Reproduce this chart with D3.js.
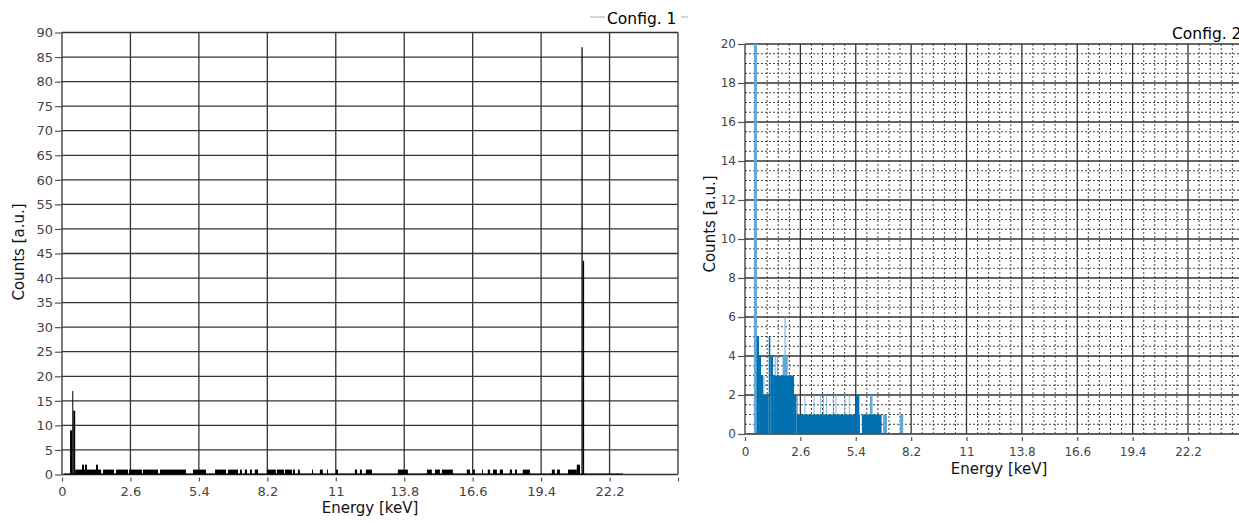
<!DOCTYPE html>
<html>
<head>
<meta charset="utf-8">
<script src="https://cdn.jsdelivr.net/npm/d3@7"></script>
<style>
  body { margin: 0; background: #fff; overflow: hidden; }
  svg { display: block; font-family: "DejaVu Sans", Verdana, sans-serif; }
</style>
</head>
<body>
<div id="chart"></div>
<script>
// Energy axis: gridlines every 2.8 keV, first one is labelled "0"
const energyTicks = [-0.2, 2.6, 5.4, 8.2, 11, 13.8, 16.6, 19.4, 22.2, 25];
const energyLabels = ["0", "2.6", "5.4", "8.2", "11", "13.8", "16.6", "19.4", "22.2", ""];

// Config. 1 spectrum, [from keV, to keV, counts]
const config1Bins = [
  [0.13, 0.22, 9], [0.22, 0.26, 17], [0.26, 0.34, 13],
  [0.34, 1.40, 1], [0.62, 0.70, 2], [0.74, 0.82, 2], [1.19, 1.27, 2],
  [1.48, 1.93, 1], [2.01, 2.50, 1], [2.54, 3.07, 1], [3.11, 3.73, 1],
  [3.81, 4.87, 1], [5.16, 5.69, 1], [6.06, 6.51, 1], [6.59, 7.00, 1],
  [7.08, 7.16, 1], [7.28, 7.37, 1], [7.49, 7.57, 1], [7.69, 7.82, 1],
  [8.18, 8.55, 1], [8.59, 8.88, 1], [8.92, 9.21, 1], [9.25, 9.33, 1],
  [9.45, 9.53, 1], [10.03, 10.07, 1], [10.35, 10.47, 1], [10.64, 10.68, 1],
  [11.01, 11.09, 1], [11.78, 11.87, 1], [11.99, 12.07, 1], [12.23, 12.48, 1],
  [13.54, 13.95, 1], [14.73, 14.93, 1], [15.06, 15.26, 1], [15.34, 15.79, 1],
  [16.36, 16.49, 1], [16.61, 16.69, 1], [16.98, 17.02, 1], [17.22, 17.31, 1],
  [17.43, 17.59, 1], [17.71, 17.84, 1], [18.12, 18.21, 1], [18.33, 18.41, 1],
  [18.65, 18.94, 1], [19.84, 19.96, 1], [20.05, 20.17, 1], [20.50, 20.86, 1],
  [20.86, 20.99, 2], [21.05, 21.10, 87], [21.10, 21.16, 43.5]
];
const config1Span = [-0.12, 22.75];

// Config. 2 spectrum, solid bins
const config2Bins = [
  [0.39, 0.51, 5], [0.51, 0.61, 4], [0.61, 0.71, 3], [0.71, 1.00, 2],
  [1.00, 1.08, 5], [1.08, 1.22, 4], [1.22, 2.28, 3], [2.28, 2.41, 2],
  [2.41, 5.61, 1], [5.41, 5.58, 2], [5.71, 6.71, 1]
];
// Config. 2 single channels (drawn lighter)
const config2Spikes = [
  [0.25, 0.40, 30], [0.73, 0.78, 3], [1.30, 1.35, 4], [1.41, 1.46, 4],
  [1.70, 1.96, 4], [1.80, 1.85, 6], [2.43, 2.47, 2], [2.81, 2.85, 2],
  [3.27, 3.31, 2], [3.61, 3.65, 2], [3.74, 3.78, 2], [3.91, 3.95, 2],
  [4.24, 4.28, 2], [4.38, 4.42, 2], [4.83, 4.87, 2], [5.05, 5.09, 2],
  [6.12, 6.25, 2], [6.78, 6.98, 1], [7.63, 7.80, 1]
];
const config2Span = [-0.2, 22.69];

const svg = d3.select("#chart")
    .append("svg")
    .attr("width", 1239)
    .attr("height", 523);

function drawPanel(p) {
    const x = d3.scaleLinear().domain([-0.2, 25]).range([p.left, p.right]);
    const y = d3.scaleLinear().domain([0, p.yMax]).range([p.bottom, p.top]);
    const g = svg.append("g");

    const clipId = "clip" + p.id;
    g.append("clipPath").attr("id", clipId)
        .append("rect")
        .attr("x", p.left).attr("y", p.top)
        .attr("width", p.right - p.left).attr("height", p.bottom - p.top);

    // minor grid (dotted)
    if (p.minor) {
        const minorX = d3.range(-0.2, 25, 0.56).filter((d, i) => i % 5 !== 0);
        const minorY = d3.range(0, p.yMax, 0.5).filter((d, i) => i % 4 !== 0);
        g.selectAll(".mx").data(minorX).enter().append("line")
            .attr("x1", d => x(d)).attr("x2", d => x(d))
            .attr("y1", p.top).attr("y2", p.bottom)
            .attr("stroke", "#444").attr("stroke-width", 1)
            .attr("stroke-dasharray", "2,2");
        g.selectAll(".my").data(minorY).enter().append("line")
            .attr("y1", d => y(d)).attr("y2", d => y(d))
            .attr("x1", p.left).attr("x2", p.right)
            .attr("stroke", "#444").attr("stroke-width", 1)
            .attr("stroke-dasharray", "2,2");
    }

    // major grid
    const yTicks = d3.range(0, p.yMax + 0.001, p.yStep);
    g.selectAll(".gx").data(energyTicks).enter().append("line")
        .attr("x1", d => x(d)).attr("x2", d => x(d))
        .attr("y1", p.top).attr("y2", p.bottom)
        .attr("stroke", "#333").attr("stroke-width", 1.3);
    g.selectAll(".gy").data(yTicks).enter().append("line")
        .attr("y1", d => y(d)).attr("y2", d => y(d))
        .attr("x1", p.left).attr("x2", p.right)
        .attr("stroke", "#333").attr("stroke-width", 1.3);

    // data
    const plot = g.append("g").attr("clip-path", `url(#${clipId})`);
    if (p.spikes) {
        plot.selectAll(".spike").data(p.spikes).enter().append("rect")
            .attr("x", d => x(d[0]))
            .attr("width", d => x(d[1]) - x(d[0]))
            .attr("y", d => y(d[2]))
            .attr("height", d => y(0) - y(d[2]))
            .attr("fill", p.spikeColor);
    }
    plot.selectAll(".bin").data(p.bins).enter().append("rect")
        .attr("x", d => x(d[0]))
        .attr("width", d => x(d[1]) - x(d[0]))
        .attr("y", d => y(d[2]))
        .attr("height", d => y(0) - y(d[2]))
        .attr("fill", p.color);
    plot.append("line")
        .attr("x1", x(p.span[0])).attr("x2", x(p.span[1]))
        .attr("y1", y(0)).attr("y2", y(0))
        .attr("stroke", p.color).attr("stroke-width", 2);

    // axes
    const yAxis = g.append("g")
        .attr("transform", `translate(${p.left},0)`)
        .call(d3.axisLeft(y).tickValues(yTicks).tickSize(7).tickPadding(2)
            .tickFormat(d3.format("d")));
    const xAxis = g.append("g")
        .attr("transform", `translate(0,${p.bottom + 3})`)
        .call(d3.axisBottom(x).tickValues(energyTicks).tickSize(4).tickPadding(p.xPad)
            .tickFormat((d, i) => energyLabels[i]));
    [yAxis, xAxis].forEach(a => {
        a.select(".domain").remove();
        a.selectAll(".tick line").attr("stroke", "#555").attr("stroke-width", 1.2);
        a.selectAll(".tick text").attr("fill", "#444")
            .style("font-size", p.tickFont + "px")
            .style("font-family", "DejaVu Sans, Verdana, sans-serif");
    });

    // titles
    g.append("text")
        .attr("x", p.xTitle[0]).attr("y", p.xTitle[1])
        .attr("text-anchor", "middle")
        .style("font-size", p.titleFont + "px").attr("fill", "#111")
        .text("Energy [keV]");
    g.append("text")
        .attr("transform", `translate(${p.yTitle[0]},${p.yTitle[1]}) rotate(-90)`)
        .attr("text-anchor", "middle")
        .style("font-size", p.titleFont + "px").attr("fill", "#111")
        .text("Counts [a.u.]");
    g.append("text")
        .attr("x", p.legend[0]).attr("y", p.legend[1])
        .style("font-size", "15.5px").attr("fill", "#000")
        .text(p.name);
}

drawPanel({
    id: 1, name: "Config. 1",
    left: 62, right: 678, top: 32.5, bottom: 474.5,
    yMax: 90, yStep: 5, minor: false,
    bins: config1Bins, span: config1Span, color: "#000",
    tickFont: 13, titleFont: 15, xPad: 5,
    xTitle: [370, 513], yTitle: [24, 252], legend: [607, 24]
});

drawPanel({
    id: 2, name: "Config. 2",
    left: 745, right: 1243.4, top: 44, bottom: 434,
    yMax: 20, yStep: 2, minor: true,
    bins: config2Bins, spikes: config2Spikes, span: config2Span,
    color: "#0070b0", spikeColor: "#62a9d6",
    tickFont: 12, titleFont: 15, xPad: 6,
    xTitle: [999, 474], yTitle: [715, 224], legend: [1172, 39]
});

// thin rule behind the first legend label
svg.append("line").attr("x1", 590).attr("x2", 605).attr("y1", 17).attr("y2", 17)
    .attr("stroke", "#aaa");
svg.append("line").attr("x1", 681).attr("x2", 688).attr("y1", 17).attr("y2", 17)
    .attr("stroke", "#aaa");
</script>
</body>
</html>
